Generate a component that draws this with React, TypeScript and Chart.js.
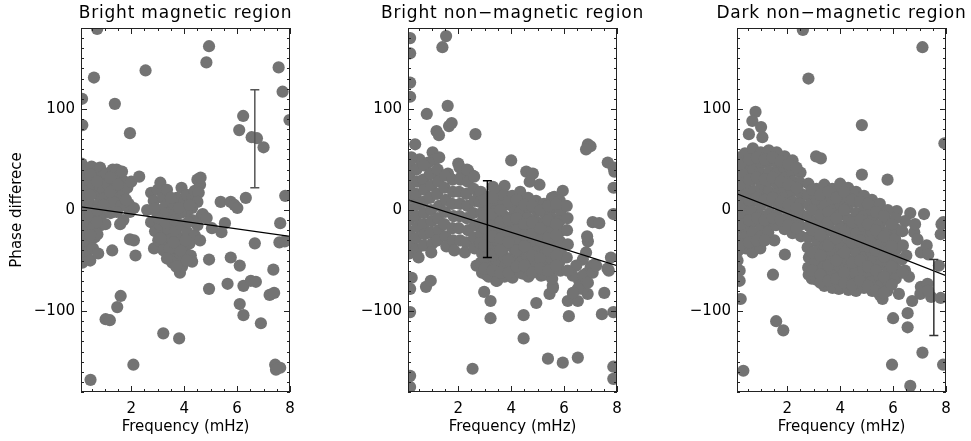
import { useEffect, useRef } from 'react';
import { Chart, registerables } from 'chart.js';

Chart.register(...registerables);

type Pt = [number, number];

const FONT = "'DejaVu Sans', sans-serif";

// Axis ranges and labelled ticks (shared by all three panels)
const X_RANGE: [number, number] = [0.1, 8];
const Y_RANGE: [number, number] = [-180, 180];
const X_TICKS = [2, 4, 6, 8];
const Y_TICKS = [-100, 0, 100];
const X_MINOR_STEP = 0.5;
const Y_MINOR_STEP = 10;

const PANEL_TITLES = ['Bright magnetic region', 'Bright non\u2212magnetic region', 'Dark non\u2212magnetic region'];
const X_TITLE = 'Frequency (mHz)';
const Y_TITLE = 'Phase differece';

// Linear fit, evaluated at both ends of the frequency range
const FIT_X: [number, number] = [0.1, 8];
const FIT_Y: [number, number][] = [
  [3, -26],
  [10, -55],
  [16, -65],
];

// Representative error bar for each panel
const ERR_FREQ = [6.67, 3.1, 7.54];
const ERR_LOW = [22, -47, -124];
const ERR_HIGH = [119, 29, -49];
const ERR_COLOR = ['#555555', '#000000', '#333333'];

// Phase difference (deg) vs frequency (mHz)
const BRIGHT_MAGNETIC: Pt[] = [
  [0.71, 179], [4.94, 162], [4.84, 146], [2.54, 138], [0.59, 131], [0.14, 110], [1.38, 105], [0.15, 84], [1.95, 76],
  [6.23, 93], [6.08, 79], [6.55, 72], [6.75, 71], [7.0, 62], [7.57, 141], [7.72, 117], [7.98, 89], [7.82, 14],
  [6.33, 12], [5.38, 8], [5.76, 8], [5.9, 5], [6.01, 2], [7.63, -13], [7.6, -32], [7.8, -31], [6.67, -33],
  [7.37, -59], [7.23, -84], [7.4, -82], [6.9, -112], [6.1, -93], [6.24, -104], [6.24, -75], [6.52, -70], [6.71, -71],
  [6.1, -55], [5.76, -47], [5.64, -73], [4.94, -78], [4.94, -49], [5.54, -13], [5.41, -22], [5.05, -18], [3.84, -62],
  [3.21, -122], [3.81, -127], [2.08, -153], [0.46, -168], [1.6, -85], [1.47, -96], [1.03, -108], [1.19, -109],
  [1.28, -40], [2.16, -45], [1.95, -29], [2.1, -30], [7.44, -153], [7.63, -156], [7.47, -158], [2.86, -38],
  [0.12, 46], [0.12, 36], [0.12, 26], [0.12, 16], [0.12, 6], [0.12, -4], [0.12, -14], [0.12, -24], [0.12, -34], [0.12, -44], [0.15, -52],
  [0.3, 41], [0.35, 30], [0.28, 20], [0.38, 9], [0.3, -2], [0.4, -12], [0.28, -22], [0.38, -32], [0.32, -42], [0.45, -50],
  [0.5, 43], [0.62, 36], [0.55, 25], [0.68, 16], [0.52, 3], [0.65, -8], [0.55, -18], [0.62, -27], [0.55, -38], [0.75, -43],
  [0.82, 42], [0.9, 33], [0.8, 24], [0.95, 20], [0.78, 6], [0.9, -4], [0.85, -15], [0.72, -24],
  [1.05, 36], [1.1, 26], [1.0, 12], [1.15, -2], [1.02, -14],
  [1.3, 40], [1.45, 40], [1.35, 30], [1.55, 33], [1.4, 22], [1.6, 26], [1.75, 28], [1.5, 12], [1.3, 8], [1.7, 16],
  [1.9, 6], [1.85, 22], [2.0, 28], [2.3, 33], [1.62, 4],
  [1.22, -3], [1.45, -2], [1.7, -10], [1.95, -2], [2.1, 2], [1.58, -14],
  [0.2, 30], [0.2, 10], [0.2, -10], [0.2, -30], [0.45, 35], [0.45, 15], [0.45, -5], [0.45, -25], [0.7, 28],
  [0.7, 0], [0.7, -12], [1.2, 32], [1.2, 18], [1.5, 25], [1.65, 38], [1.8, 10], [0.95, 5],
  [2.6, 0], [2.75, 17], [2.85, 9], [2.95, -2], [3.0, 20], [3.1, 27], [3.2, 12], [3.3, 4], [3.35, 20], [3.5, -2],
  [3.6, 6], [3.72, 12], [3.9, 22], [4.0, 8], [4.1, 15], [4.3, 12], [4.4, 19], [4.5, 30], [4.6, 25], [4.62, 32],
  [4.55, 17], [4.5, 8], [4.3, 2], [4.1, -2], [3.85, -3], [3.2, -3],
  [2.75, -12], [2.9, -21], [3.02, -30], [3.1, -15], [3.22, -25], [3.3, -35], [3.4, -19], [3.5, -11], [3.52, -29],
  [3.6, -42], [3.68, -21], [3.75, -35], [3.8, -48], [3.9, -15], [3.95, -28], [4.02, -40], [4.12, -22], [4.2, -33],
  [4.25, -45], [4.3, -51], [3.4, -45], [3.22, -40], [4.4, -25], [4.6, -30], [4.5, -15], [3.0, -8], [3.55, -52],
  [3.92, -56], [4.65, -6], [4.3, -10], [4.7, -4], [4.85, -8],
  [3.1, -28], [3.3, -12], [3.45, -38], [3.65, -10], [3.85, -40], [4.05, -30], [4.15, -12], [3.35, -48], [3.7, -56],
  [4.1, -50], [3.5, 12], [3.8, 2], [4.2, 5], [2.9, 2], [3.6, -32],
];

const BRIGHT_NONMAGNETIC: Pt[] = [
  [0.18, 170], [0.18, 155], [1.54, 172], [1.4, 161], [0.18, 126], [0.18, 112], [1.6, 103], [0.81, 95], [1.65, 83],
  [1.75, 86], [1.18, 78], [1.27, 74], [2.65, 75], [0.37, 65], [1.03, 57], [1.28, 52], [1.12, 50], [0.54, 50],
  [0.23, 52], [0.87, 47], [4.0, 49], [6.9, 65], [7.0, 63], [6.83, 60], [7.65, 47], [7.87, 42], [7.9, 38], [7.87, 22],
  [7.86, -4], [7.08, -12], [7.33, -13], [7.77, -47], [7.69, -60], [7.64, -58], [7.52, -82], [7.43, -103], [7.86, -101],
  [7.86, -155], [7.86, -167], [0.18, -164], [0.18, -175], [2.54, -157], [5.39, -147], [5.95, -151], [6.52, -146],
  [4.47, -127], [4.47, -104], [6.18, -105], [4.95, -92], [3.22, -107], [3.22, -90], [2.98, -81], [0.78, -76],
  [0.96, -70], [0.18, -101], [0.24, -67], [0.18, -78], [2.69, -55], [5.45, -83], [5.58, -77], [6.14, -90],
  [6.52, -90], [6.89, -83], [6.7, -78], [6.9, -31], [6.87, -26], [7.0, -57], [7.14, -54], [6.57, -70], [6.82, -63],
  [5.57, -75], [3.06, -64], [3.43, -70], [4.0, -65], [4.44, -63], [5.13, -65],
  [6.83, -42], [7.08, -55], [6.71, -49], [6.46, -55], [6.33, -65], [6.71, -65], [6.9, -72], [6.52, -78], [6.33, -82],
  [7.08, -62], [7.21, -55],
  [2.0, 46], [2.37, 39], [2.55, 34], [2.12, 33], [2.74, 18], [3.31, 23], [3.75, 24], [2.93, 7],
  [4.57, 38], [4.82, 36], [5.07, 25], [4.7, 28], [5.95, 19], [5.63, 13], [4.44, 11], [4.06, 8], [5.2, 4], [5.7, 4],
  [0.92, 35], [1.17, 38], [1.61, 36],
  [0.15, 45], [0.15, 34], [0.15, 23], [0.15, 12], [0.15, 1], [0.15, -10], [0.15, -21], [0.15, -32], [0.15, -43],
  [0.42, 40], [0.45, 28], [0.4, 16], [0.44, 5], [0.41, -6], [0.46, -17], [0.4, -28], [0.43, -39], [0.5, -47],
  [0.7, 44], [0.68, 30], [0.72, 20], [0.67, 8], [0.71, -3], [0.69, -14], [0.73, -24], [0.7, -35],
  [0.95, 36], [0.98, 24], [0.93, 12], [0.97, 0], [1.0, -11], [0.96, -22], [1.02, -33], [0.98, -42],
  [1.22, 40], [1.25, 28], [1.2, 16], [1.27, 4], [1.23, -8], [1.26, -20], [1.21, -30],
  [1.5, 34], [1.48, 22], [1.53, 10], [1.5, -2], [1.47, -14], [1.52, -26], [1.55, -36],
  [1.78, 30], [1.8, 18], [1.76, 6], [1.82, -6], [1.78, -18], [1.8, -30], [1.85, -40],
  [2.05, 42], [2.08, 30], [2.03, 18], [2.07, 6], [2.05, -6], [2.02, -18], [2.07, -30],
  [2.33, 40], [2.36, 28], [2.3, 16], [2.35, 4], [2.32, -8], [2.37, -20], [2.3, -32], [2.25, -42],
  [2.6, 33], [2.58, 21], [2.62, 9], [2.57, -3], [2.63, -15], [2.6, -27], [2.62, -38],
  [2.85, 18], [2.82, 8], [2.88, -3], [2.84, -13], [2.87, -23], [2.83, -33], [2.9, -43], [2.86, -52], [2.9, -62],
  [3.13, 13], [3.17, 2], [3.12, -8], [3.18, -18], [3.14, -28], [3.16, -38], [3.12, -48], [3.18, -57], [3.15, -66],
  [3.44, 19], [3.47, 9], [3.42, -1], [3.46, -11], [3.43, -21], [3.48, -31], [3.44, -41], [3.46, -51], [3.43, -61], [3.47, -70],
  [3.74, 15], [3.77, 5], [3.73, -6], [3.76, -16], [3.74, -26], [3.78, -36], [3.73, -46], [3.76, -56], [3.75, -66],
  [4.04, 14], [4.07, 3], [4.03, -7], [4.06, -17], [4.04, -27], [4.08, -37], [4.03, -47], [4.06, -57], [4.05, -67],
  [4.34, 18], [4.36, 8], [4.33, -2], [4.37, -12], [4.34, -22], [4.36, -32], [4.33, -42], [4.37, -52], [4.35, -62],
  [4.64, 12], [4.67, 2], [4.63, -8], [4.66, -18], [4.64, -28], [4.68, -38], [4.63, -48], [4.66, -58], [4.65, -66],
  [4.94, 9], [4.97, -1], [4.93, -11], [4.96, -21], [4.94, -31], [4.97, -41], [4.93, -51], [4.96, -61],
  [5.24, 6], [5.27, -4], [5.23, -14], [5.26, -24], [5.24, -34], [5.27, -44], [5.23, -54], [5.26, -64],
  [5.54, 12], [5.57, 2], [5.53, -8], [5.56, -18], [5.54, -28], [5.57, -38], [5.53, -48], [5.56, -58], [5.55, -68],
  [5.84, 9], [5.87, -1], [5.83, -11], [5.86, -21], [5.84, -31], [5.87, -41], [5.83, -51], [5.86, -60],
  [6.1, 4], [6.13, -8], [6.11, -20], [6.14, -34], [6.1, -47], [6.13, -60],
  [3.0, 10], [3.0, -5], [3.0, -18], [3.0, -35], [3.0, -48], [3.0, -58],
  [3.3, 12], [3.3, -4], [3.3, -16], [3.3, -26], [3.3, -45], [3.3, -60],
  [3.6, 0], [3.6, -12], [3.6, -28], [3.6, -40], [3.6, -62],
  [3.9, 8], [3.9, -10], [3.9, -22], [3.9, -32], [3.9, -50], [3.9, -62],
  [4.2, 10], [4.2, -8], [4.2, -20], [4.2, -40], [4.2, -56],
  [4.5, 5], [4.5, -14], [4.5, -25], [4.5, -36], [4.5, -55],
  [4.8, 4], [4.8, -12], [4.8, -24], [4.8, -45], [4.8, -62],
  [5.1, 0], [5.1, -18], [5.1, -30], [5.1, -48], [5.1, -58],
  [5.4, 4], [5.4, -10], [5.4, -28], [5.4, -40], [5.4, -60],
  [5.7, 6], [5.7, -14], [5.7, -25], [5.7, -45], [5.7, -55],
];

const DARK_NONMAGNETIC: Pt[] = [
  [2.59, 178], [7.11, 161], [2.8, 130], [4.82, 84], [7.94, 66], [0.8, 97], [0.68, 88], [1.01, 82], [0.55, 75],
  [1.06, 72], [3.09, 53], [3.27, 51], [4.82, 35], [5.79, 30], [7.17, -4], [6.65, -3], [6.12, -2], [5.56, -2],
  [7.83, -14], [7.8, -24], [7.73, -55], [7.44, -86], [7.8, -87], [7.05, -76], [7.3, -73], [7.05, -42], [6.8, -22],
  [6.92, -29], [6.0, -107], [6.55, -102], [6.55, -116], [7.11, -141], [5.96, -153], [7.89, -153], [6.65, -174],
  [0.34, -159], [1.58, -110], [1.85, -119], [1.46, -64], [1.91, -44], [0.24, -88], [0.2, -60], [0.2, -70],
  [2.93, -68], [3.49, -73], [3.95, -78], [5.6, -88], [6.45, -11], [6.83, -14], [7.27, -35], [7.33, -44],
  [6.22, -83], [6.72, -90], [7.03, -83], [7.33, -80], [6.14, -1], [0.84, -35], [1.51, -30], [6.45, -60],
  [6.6, -66], [6.5, -45], [7.9, -12],
  [0.12, 52], [0.12, 42], [0.12, 31], [0.12, 21], [0.12, 11], [0.12, 1], [0.12, -9], [0.12, -19], [0.12, -30], [0.12, -41], [0.12, -50],
  [0.4, 56], [0.42, 45], [0.38, 35], [0.43, 24], [0.39, 14], [0.41, 4], [0.38, -6], [0.42, -17], [0.4, -27], [0.43, -38],
  [0.7, 61], [0.68, 50], [0.72, 40], [0.69, 30], [0.73, 19], [0.7, 9], [0.67, -1], [0.72, -12], [0.69, -22], [0.71, -32], [0.68, -42],
  [1.0, 57], [1.02, 46], [0.98, 36], [1.03, 25], [0.99, 15], [1.01, 5], [0.97, -5], [1.03, -16], [1.0, -26], [0.98, -38],
  [1.3, 59], [1.28, 48], [1.32, 38], [1.29, 28], [1.31, 18], [1.27, 8], [1.33, -3], [1.3, -13], [1.28, -22],
  [1.6, 57], [1.62, 46], [1.58, 36], [1.61, 26], [1.59, 16], [1.63, 6], [1.6, -5], [1.57, -15],
  [1.9, 53], [1.88, 42], [1.92, 32], [1.89, 22], [1.91, 12], [1.87, 2], [1.93, -9], [1.9, -19],
  [2.2, 49], [2.18, 38], [2.22, 28], [2.19, 18], [2.21, 8], [2.17, -2], [2.23, -12], [2.2, -23],
  [2.5, 37], [2.48, 27], [2.52, 16], [2.49, 6], [2.51, -4], [2.47, -15], [2.52, -26],
  [0.25, 46], [0.25, 26], [0.25, 6], [0.25, -14], [0.25, -34],
  [0.55, 50], [0.55, 30], [0.55, 10], [0.55, -10], [0.55, -32],
  [0.85, 52], [0.85, 32], [0.85, 12], [0.85, -8], [0.85, -30],
  [1.15, 50], [1.15, 30], [1.15, 10], [1.15, -10], [1.15, -30],
  [1.45, 52], [1.45, 32], [1.45, 12], [1.45, -8],
  [1.75, 48], [1.75, 28], [1.75, 8], [1.75, -10],
  [2.05, 45], [2.05, 25], [2.05, 5], [2.05, -15],
  [2.35, 42], [2.35, 22], [2.35, 2], [2.35, -18],
  [2.8, 26], [2.78, 15], [2.82, 5], [2.79, -6], [2.83, -16], [2.8, -27], [2.77, -37], [2.82, -47], [2.79, -57], [2.81, -64],
  [3.1, 21], [3.12, 10], [3.08, 0], [3.11, -11], [3.09, -21], [3.13, -31], [3.1, -41], [3.07, -51], [3.12, -61], [3.1, -69],
  [3.4, 25], [3.38, 14], [3.42, 4], [3.39, -6], [3.41, -17], [3.37, -27], [3.43, -37], [3.4, -47], [3.38, -57], [3.42, -66], [3.4, -75],
  [3.7, 21], [3.72, 10], [3.68, 0], [3.71, -10], [3.69, -21], [3.73, -31], [3.7, -41], [3.67, -51], [3.72, -61], [3.69, -70], [3.71, -77],
  [4.0, 26], [3.98, 15], [4.02, 5], [3.99, -5], [4.01, -16], [3.97, -26], [4.03, -36], [4.0, -46], [3.98, -56], [4.02, -66], [4.0, -75],
  [4.3, 22], [4.32, 12], [4.28, 2], [4.31, -9], [4.29, -19], [4.33, -29], [4.3, -39], [4.27, -49], [4.32, -59], [4.29, -69], [4.31, -79],
  [4.6, 18], [4.58, 8], [4.62, -3], [4.59, -13], [4.61, -23], [4.57, -33], [4.63, -43], [4.6, -53], [4.58, -63], [4.62, -72], [4.6, -80],
  [4.9, 14], [4.92, 4], [4.88, -6], [4.91, -17], [4.89, -27], [4.93, -37], [4.9, -47], [4.87, -57], [4.92, -67], [4.9, -77],
  [5.2, 10], [5.18, 0], [5.22, -10], [5.19, -21], [5.21, -31], [5.17, -41], [5.23, -51], [5.2, -61], [5.18, -71], [5.21, -80],
  [5.5, 6], [5.52, -4], [5.48, -15], [5.51, -25], [5.49, -35], [5.53, -45], [5.5, -55], [5.47, -65], [5.52, -75], [5.5, -84],
  [5.8, 0], [5.78, -10], [5.82, -21], [5.79, -31], [5.81, -41], [5.77, -51], [5.83, -61], [5.8, -71], [5.78, -80],
  [6.1, -8], [6.12, -19], [6.08, -29], [6.11, -39], [6.09, -49], [6.13, -59], [6.1, -68],
  [6.35, -21], [6.37, -35], [6.33, -49], [6.36, -62],
  [2.95, 20], [2.95, 0], [2.95, -20], [2.95, -42], [2.95, -60],
  [3.25, 15], [3.25, -5], [3.25, -25], [3.25, -45], [3.25, -64], [3.25, -72],
  [3.55, 18], [3.55, -2], [3.55, -12], [3.55, -35], [3.55, -55], [3.55, -70],
  [3.85, 12], [3.85, -8], [3.85, -28], [3.85, -50], [3.85, -68],
  [4.15, 18], [4.15, 0], [4.15, -22], [4.15, -42], [4.15, -62], [4.15, -72],
  [4.45, 10], [4.45, -12], [4.45, -32], [4.45, -52], [4.45, -74],
  [4.75, 8], [4.75, -10], [4.75, -30], [4.75, -50], [4.75, -70],
  [5.05, 6], [5.05, -14], [5.05, -36], [5.05, -56], [5.05, -75],
  [5.35, -2], [5.35, -20], [5.35, -40], [5.35, -60], [5.35, -80],
  [5.65, -6], [5.65, -26], [5.65, -46], [5.65, -66], [5.65, -82],
  [5.95, -14], [5.95, -36], [5.95, -56], [5.95, -74],
];

const PANEL_POINTS: Pt[][] = [BRIGHT_MAGNETIC, BRIGHT_NONMAGNETIC, DARK_NONMAGNETIC];

// Canvas placement and geometry
const PANEL_LEFT = [0, 327, 656];
const CANVAS_W = 327;
const CANVAS_H = 441;
const POINT_COLOR = '#737373';

const fmtTick = (v: number) => (v < 0 ? '\u2212' + Math.abs(v) : String(v));
const near = (a: number, b: number) => Math.abs(a - b) < 1e-6;

// Closed box with inward ticks on all four sides, the panel title and the error bar
const idlFramePlugin = {
  id: 'idlFrame',
  afterDatasetsDraw(chart: any, _args: unknown, opts: any) {
    const { ctx, chartArea } = chart;
    const { left, right, top, bottom } = chartArea;
    const xs = chart.scales.x;
    const ys = chart.scales.y;
    ctx.save();

    // error bar
    const ex = xs.getPixelForValue(opts.errX);
    const eLo = ys.getPixelForValue(opts.errLow);
    const eHi = ys.getPixelForValue(opts.errHigh);
    ctx.strokeStyle = opts.errColor;
    ctx.lineWidth = 1.5;
    ctx.beginPath();
    ctx.moveTo(ex, eLo);
    ctx.lineTo(ex, eHi);
    ctx.moveTo(ex - 4.5, eLo);
    ctx.lineTo(ex + 4.5, eLo);
    ctx.moveTo(ex - 4.5, eHi);
    ctx.lineTo(ex + 4.5, eHi);
    ctx.stroke();

    // frame
    ctx.strokeStyle = '#222';
    ctx.lineWidth = 1;
    ctx.strokeRect(left + 0.5, top + 0.5, right - left - 1, bottom - top - 1);

    ctx.beginPath();
    const xStart = Math.ceil(X_RANGE[0] / X_MINOR_STEP) * X_MINOR_STEP;
    for (let v = xStart; v <= X_RANGE[1] + 1e-9; v += X_MINOR_STEP) {
      const px = Math.round(xs.getPixelForValue(v)) + 0.5;
      const len = X_TICKS.some((t) => near(t, v)) ? 6 : 3;
      ctx.moveTo(px, bottom);
      ctx.lineTo(px, bottom - len);
      ctx.moveTo(px, top);
      ctx.lineTo(px, top + len);
    }
    const yStart = Math.ceil(Y_RANGE[0] / Y_MINOR_STEP) * Y_MINOR_STEP;
    for (let v = yStart; v <= Y_RANGE[1] + 1e-9; v += Y_MINOR_STEP) {
      const py = Math.round(ys.getPixelForValue(v)) + 0.5;
      const len = Y_TICKS.some((t) => near(t, v)) ? 6 : 3;
      ctx.moveTo(left, py);
      ctx.lineTo(left + len, py);
      ctx.moveTo(right, py);
      ctx.lineTo(right - len, py);
    }
    ctx.stroke();

    // panel title
    ctx.fillStyle = '#000';
    ctx.font = `17px ${FONT}`;
    (ctx as any).letterSpacing = '0.8px';
    ctx.textAlign = 'center';
    ctx.textBaseline = 'middle';
    ctx.fillText(opts.title, (left + right) / 2, 14);
    ctx.restore();
  },
};

function buildConfig(i: number): any {
  const pts = PANEL_POINTS[i];
  return {
    type: 'scatter',
    data: {
      datasets: [
        {
          label: 'fit',
          data: [
            { x: FIT_X[0], y: FIT_Y[i][0] },
            { x: FIT_X[1], y: FIT_Y[i][1] },
          ],
          showLine: true,
          borderColor: '#000',
          borderWidth: 1.3,
          pointRadius: 0,
          clip: 0,
          order: 0,
        },
        {
          label: 'phase',
          data: pts.map(([x, y]) => ({ x, y })),
          backgroundColor: POINT_COLOR,
          borderWidth: 0,
          pointRadius: 6.1,
          clip: 0,
          order: 1,
        },
      ],
    },
    options: {
      animation: false,
      responsive: false,
      events: [],
      layout: { padding: { top: 28, right: 37, bottom: 0, left: 0 } },
      plugins: {
        legend: { display: false },
        tooltip: { enabled: false },
        title: { display: false },
        idlFrame: {
          title: PANEL_TITLES[i],
          errX: ERR_FREQ[i],
          errLow: ERR_LOW[i],
          errHigh: ERR_HIGH[i],
          errColor: ERR_COLOR[i],
        },
      },
      scales: {
        x: {
          type: 'linear',
          min: X_RANGE[0],
          max: X_RANGE[1],
          afterBuildTicks: (s: any) => {
            s.ticks = X_TICKS.map((value) => ({ value }));
          },
          afterFit: (s: any) => {
            s.height = 49;
          },
          grid: { display: false, drawTicks: false },
          border: { display: false },
          ticks: {
            padding: 8,
            color: '#000',
            autoSkip: false,
            maxRotation: 0,
            minRotation: 0,
            font: { family: FONT, size: 15 },
            callback: (v: number) => fmtTick(v),
          },
          title: {
            display: true,
            text: X_TITLE,
            color: '#000',
            font: { family: FONT, size: 15 },
            padding: { top: 0, bottom: 5 },
          },
        },
        y: {
          type: 'linear',
          min: Y_RANGE[0],
          max: Y_RANGE[1],
          afterBuildTicks: (s: any) => {
            s.ticks = Y_TICKS.map((value) => ({ value }));
          },
          afterFit: (s: any) => {
            s.width = 81;
          },
          grid: { display: false, drawTicks: false },
          border: { display: false },
          ticks: {
            padding: 6,
            color: '#000',
            autoSkip: false,
            font: { family: FONT, size: 15 },
            callback: (v: number) => fmtTick(v),
          },
          title: {
            display: i === 0,
            text: Y_TITLE,
            color: '#000',
            font: { family: FONT, size: 15 },
            padding: { top: 8.5, bottom: 0 },
          },
        },
      },
    },
    plugins: [idlFramePlugin],
  };
}

function Panel({ index }: { index: number }) {
  const ref = useRef<HTMLCanvasElement>(null);
  useEffect(() => {
    if (!ref.current) return;
    const chart = new Chart(ref.current, buildConfig(index));
    return () => chart.destroy();
  }, [index]);
  return (
    <canvas
      ref={ref}
      width={CANVAS_W}
      height={CANVAS_H}
      style={{ position: 'absolute', left: PANEL_LEFT[index], top: 0, width: CANVAS_W, height: CANVAS_H }}
    />
  );
}

export default function App() {
  return (
    <div
      style={{
        position: 'fixed',
        left: 0,
        top: 0,
        width: 971,
        height: 441,
        background: '#fff',
        overflow: 'hidden',
      }}
    >
      {PANEL_TITLES.map((_, i) => (
        <Panel key={i} index={i} />
      ))}
    </div>
  );
}
